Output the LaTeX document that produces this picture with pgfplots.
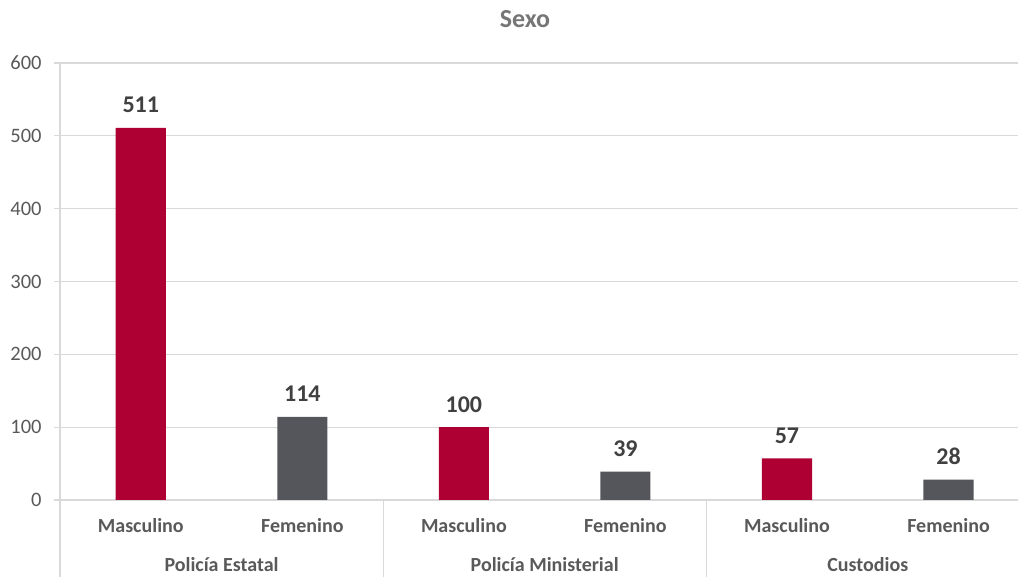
\documentclass[border=0pt]{standalone}
\usepackage{pgfplots}
\pgfplotsset{compat=1.18}
\usepackage{fontspec}
\setmainfont{Carlito}
\definecolor{barred}{HTML}{AE0033}
\definecolor{bargray}{HTML}{54565B}
\definecolor{gridc}{HTML}{D9D9D9}
\definecolor{txt}{HTML}{595959}
\definecolor{lbl}{HTML}{404040}
\definecolor{ttl}{HTML}{767676}
\tikzset{catlab/.style={anchor=base, inner sep=0pt, text=txt, font=\bfseries\fontsize{10}{12}\selectfont}}
\begin{document}
\begin{tikzpicture}
\useasboundingbox (0,0) rectangle (509pt,288.5pt);
\begin{axis}[
  at={(30pt,38.5pt)}, anchor=south west,
  scale only axis, width=479pt, height=218.5pt,
  xmin=-0.5, xmax=5.43, ymin=0, ymax=600,
  ytick={0,100,...,600},
  xtick=\empty,
  ymajorgrids, grid style={gridc, line width=0.6pt},
  axis line style={draw=none},
  tick align=outside, ytick pos=left,
  major tick length=3pt,
  tick style={gridc, line width=0.6pt},
  /pgf/number format/assume math mode=true,
  yticklabel style={font=\fontsize{10.25}{12}\selectfont, text=txt, anchor=east, inner sep=0pt, xshift=-6pt},
  ybar, bar width=0.31, bar shift=0pt,
  clip=false,
  nodes near coords,
  nodes near coords style={font=\bfseries\fontsize{12}{14}\selectfont, text=lbl, anchor=base, inner sep=0pt, yshift=7.5pt},
]
\addplot[fill=barred, draw=none] coordinates {(0,511) (2,100) (4,57)};
\addplot[fill=bargray, draw=none] coordinates {(1,114) (3,39) (5,28)};
\draw[gridc, line width=0.6pt] (axis cs:-0.5,600) -- ([yshift=-38.5pt]axis cs:-0.5,0);
\draw[gridc, line width=0.6pt] (axis cs:1.5,0) -- ([yshift=-38.5pt]axis cs:1.5,0);
\draw[gridc, line width=0.6pt] (axis cs:3.5,0) -- ([yshift=-38.5pt]axis cs:3.5,0);
\node[catlab] at ([yshift=-16.5pt]axis cs:0,0) {Masculino};
\node[catlab] at ([yshift=-16.5pt]axis cs:1,0) {Femenino};
\node[catlab] at ([yshift=-16.5pt]axis cs:2,0) {Masculino};
\node[catlab] at ([yshift=-16.5pt]axis cs:3,0) {Femenino};
\node[catlab] at ([yshift=-16.5pt]axis cs:4,0) {Masculino};
\node[catlab] at ([yshift=-16.5pt]axis cs:5,0) {Femenino};
\node[catlab] at ([yshift=-36pt]axis cs:0.5,0) {Policía Estatal};
\node[catlab] at ([yshift=-36pt]axis cs:2.5,0) {Policía Ministerial};
\node[catlab] at ([yshift=-36pt]axis cs:4.5,0) {Custodios};
\node[anchor=base, inner sep=0pt, text=ttl, font=\bfseries\fontsize{13}{15}\selectfont] at ([yshift=17.5pt]axis cs:2.378,600) {Sexo};
\end{axis}
\end{tikzpicture}
\end{document}
